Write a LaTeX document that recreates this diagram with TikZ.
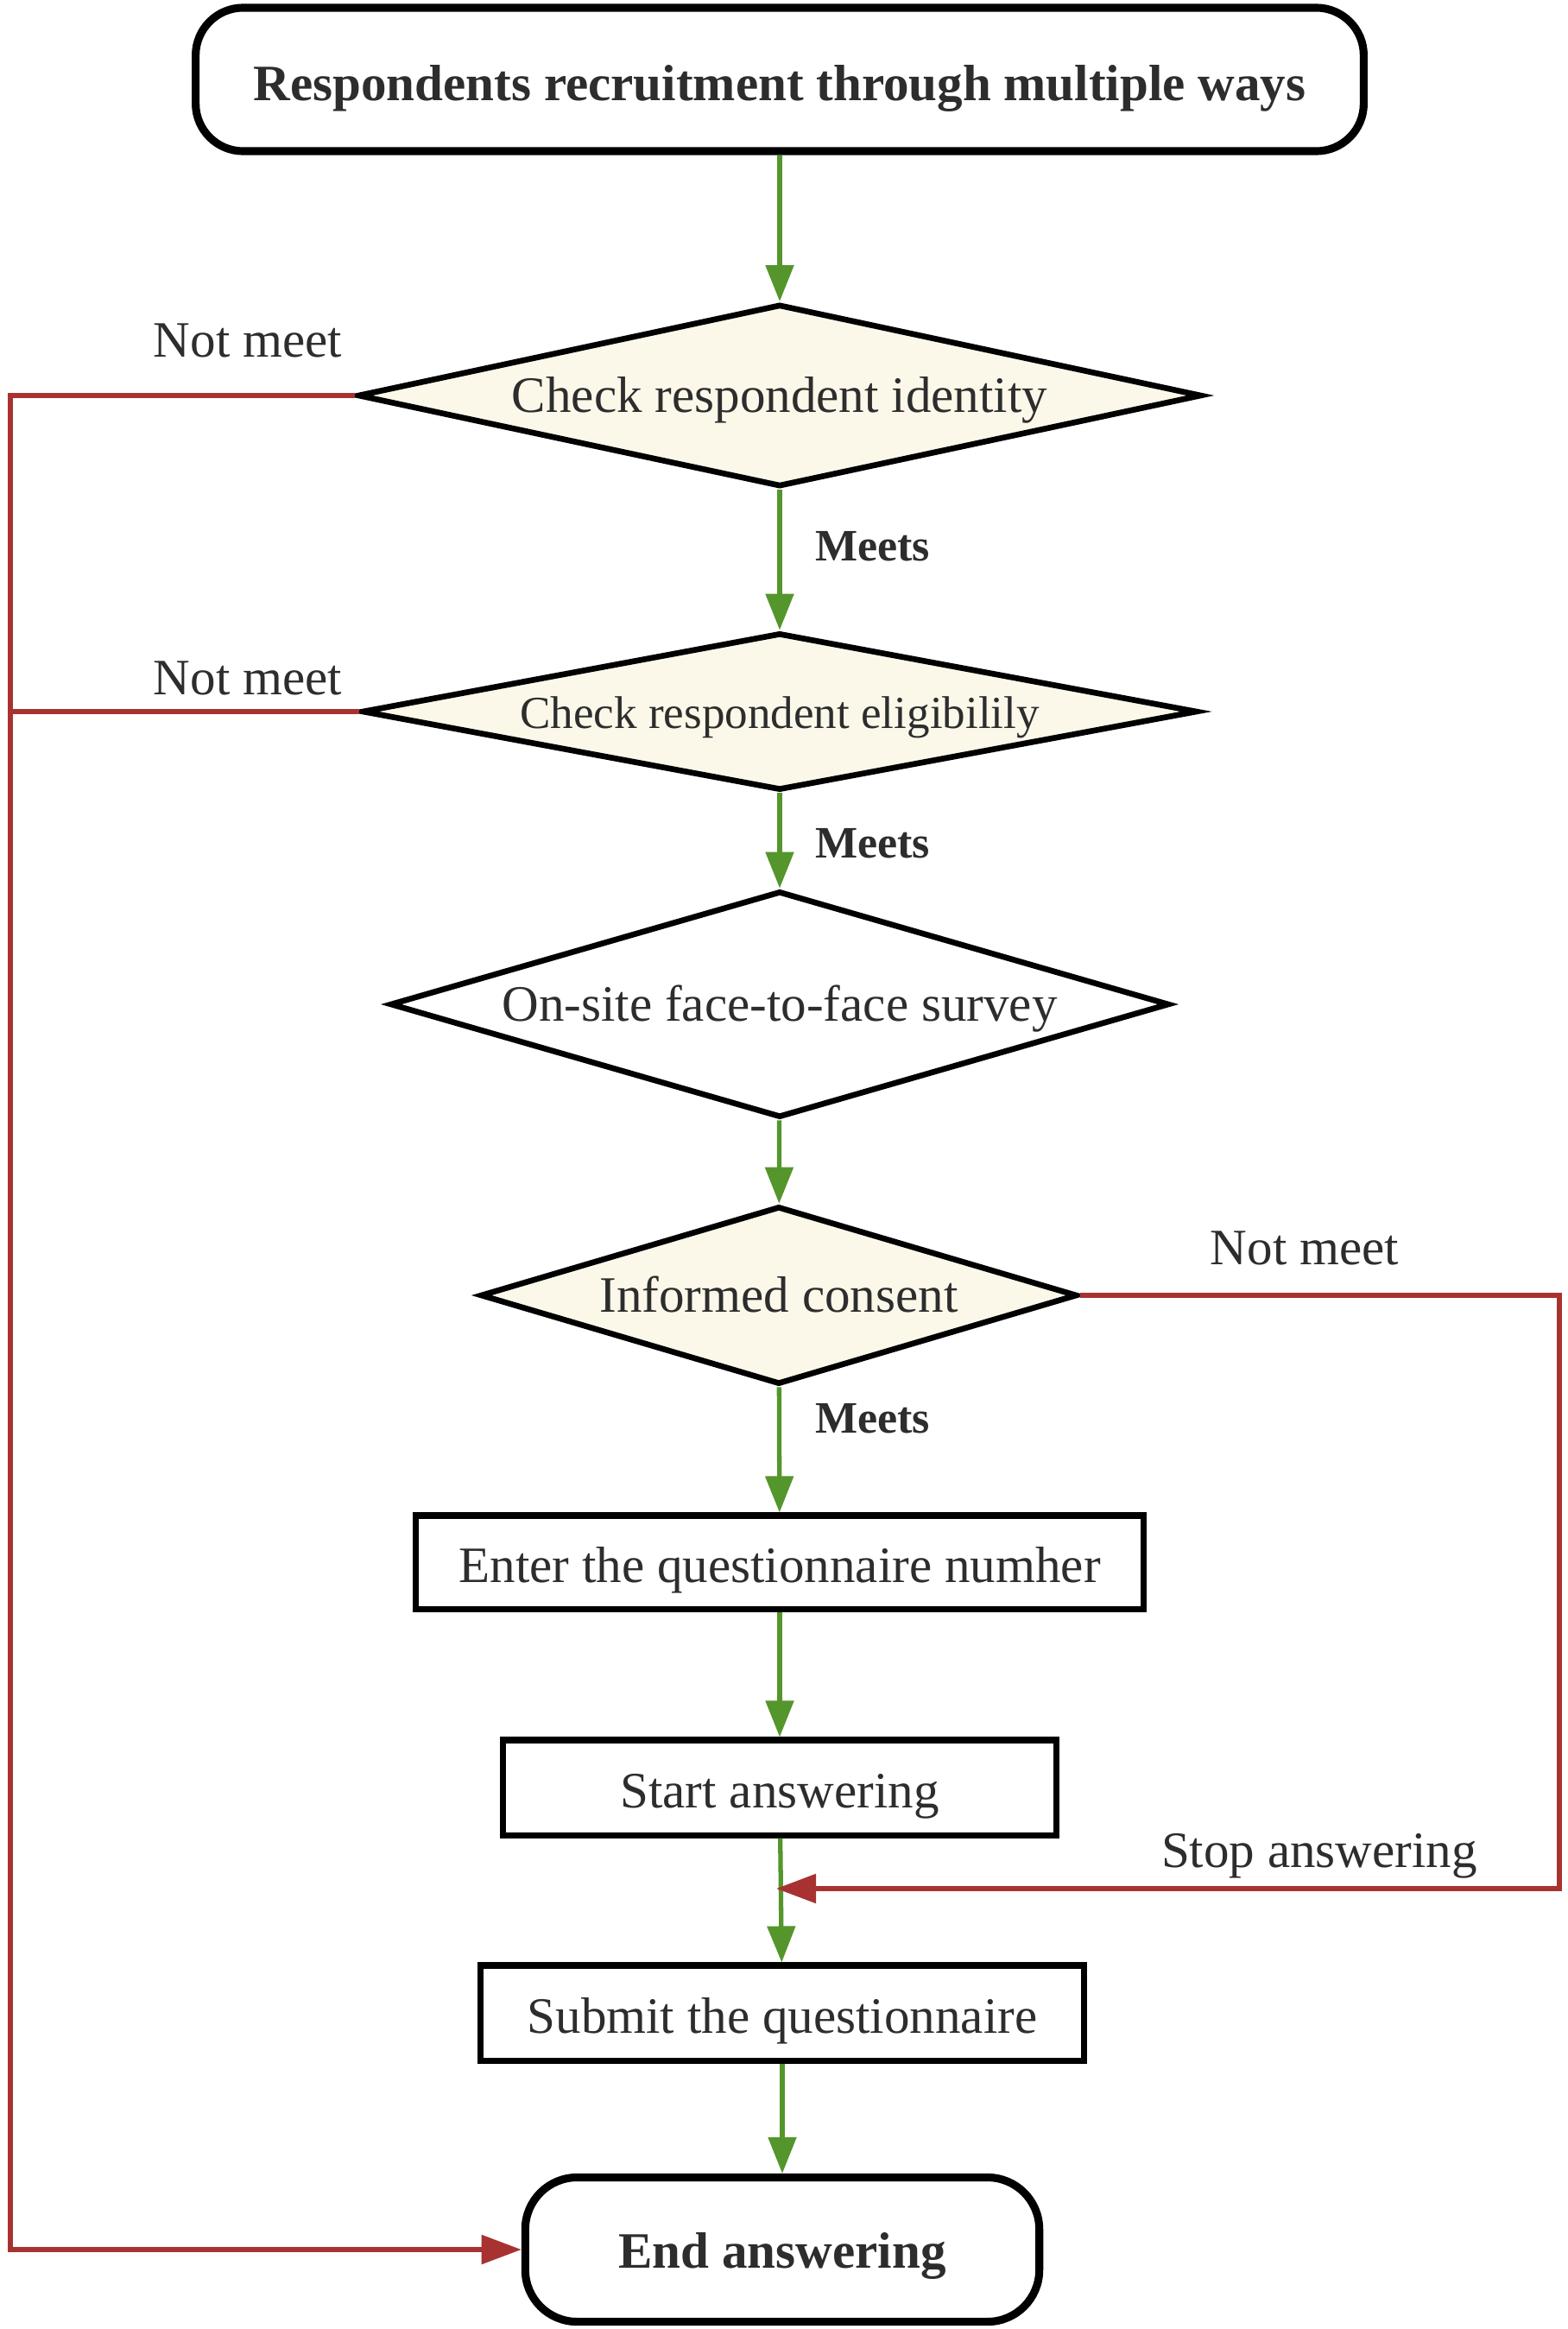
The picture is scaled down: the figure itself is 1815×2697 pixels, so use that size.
\documentclass[tikz,border=0pt]{standalone}
\usepackage{fontspec}
\setmainfont{Liberation Serif}
\usetikzlibrary{shapes.geometric,arrows.meta}
\definecolor{okgreen}{RGB}{84,150,44}
\definecolor{nored}{RGB}{168,50,50}
\definecolor{cream}{RGB}{251,248,234}
\definecolor{ink}{RGB}{45,45,45}

\begin{document}
\begin{tikzpicture}[x = 0.01cm, y = -0.01cm, line width = 1.9pt,
                      term/.style = {rectangle, draw, rounded corners = 0.55cm, line width = 2.6pt, inner sep = 0,
                                     text height = 0.49cm, text depth = 0pt,
                                     text = ink, font = \fontsize{16.8}{20}\selectfont\bfseries},
                      decide/.style = {diamond, draw, fill = cream, inner sep = 0, text = ink,
                                       text height = 0.38cm, text depth = 0pt,
                                       font = \fontsize{16.8}{20}\selectfont},
                      proc/.style = {rectangle, draw, line width = 2pt, inner sep = 0, text = ink,
                                     text height = 0.46cm, text depth = 0pt, font = \fontsize{16.8}{20}\selectfont},
                      okline/.style = {draw = okgreen, line width = 1.5pt, -{Triangle[length = 0.42cm, width = 0.32cm]}},
                      noline/.style = {draw = nored, line width = 1.5pt},
                      note/.style = {text = ink, font = \fontsize{16.8}{20}\selectfont},
                      meets/.style = {text = ink, anchor = west, font = \fontsize{14.8}{18}\selectfont\bfseries}]
    \useasboundingbox (0, 0) rectangle (1815, 2697);

    \node [term, minimum width = 13.52cm, minimum height = 1.66cm] (start) at (903, 92){Respondents recruitment through multiple ways};
    \node [decide, minimum width = 9.77cm, minimum height = 2.11cm, aspect = 4.63] (d1) at (903, 458){Check respondent identity};
    \node [decide, minimum width = 9.67cm, minimum height = 1.82cm, aspect = 5.3,
           font = \fontsize{15.1}{18}\selectfont] (d2) at (903, 824){Check respondent eligibilily};
    \node [decide, fill = white, minimum width = 9.02cm, minimum height = 2.62cm, aspect = 3.44] (d3) at (903, 1163){On-site face-to-face survey};
    \node [decide, minimum width = 6.91cm, minimum height = 2.06cm, aspect = 3.35] (d4) at (902, 1500){Informed consent};
    \node [proc, minimum width = 8.43cm, minimum height = 1.08cm] (b1) at (903, 1809){Enter the questionnaire numher};
    \node [proc, minimum width = 6.40cm, minimum height = 1.10cm] (b2) at (903, 2070){Start answering};
    \node [proc, minimum width = 6.99cm, minimum height = 1.10cm] (b3) at (906, 2331){Submit the questionnaire};
    \node [term, minimum width = 5.95cm, minimum height = 1.67cm, rounded corners = 0.6cm,
           text height = 0.42cm] (stop) at (906, 2605){End answering};

    \coordinate (join) at (899, 2187);

    % main flow
    \draw [okline] (start) -- (d1);
    \draw [okline] (d1) -- (d2);
    \draw [okline] (d2) -- (d3);
    \draw [okline] (d3) -- (d4);
    \draw [okline] (d4) -- (b1);
    \draw [okline] (b1) -- (b2);
    \draw [okline] (b2) -- (b3);
    \draw [okline] (b3) -- (stop);

    % rejections
    \draw [noline, -{Triangle[length = 0.46cm, width = 0.33cm]}] (d1.west) -- (12, 458) -- (12, 2605) -- (stop.west);
    \draw [noline] (d2.west) -- (12, 824);
    \draw [noline, -{Triangle[length = 0.46cm, width = 0.33cm]}] (d4.east) -- (1806, 1500) -- (1806, 2187) -- (join);

    \node [note] (n1) at (287, 394){Not meet};
    \node [note] (n2) at (287, 785){Not meet};
    \node [note] (n3) at (1511, 1445){Not meet};
    \node [note] (n4) at (1528, 2149){Stop answering};
    \node [meets] (m1) at (929, 633){Meets};
    \node [meets] (m2) at (929, 977){Meets};
    \node [meets] (m3) at (929, 1643){Meets};
    \end{tikzpicture}
\end{document}
